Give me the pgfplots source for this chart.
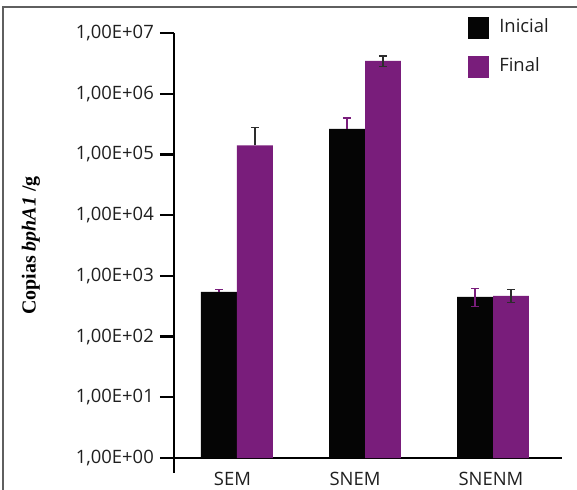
\documentclass[border=0pt]{standalone}
\usepackage{fontspec}
\setmainfont{Open Sans}
\newfontfamily\serifB{Liberation Serif}
\usepackage{pgfplots}
\pgfplotsset{compat=1.18}
\definecolor{barpurple}{RGB}{121,29,123}
\definecolor{errgray}{RGB}{45,45,45}
\definecolor{framegray}{RGB}{95,95,95}
\definecolor{barblack}{RGB}{5,5,5}

\begin{document}
\begin{tikzpicture}
\useasboundingbox (0,0) rectangle (577bp,490bp);
\draw[framegray, line width=1.5bp] (3bp,-20bp) rectangle (600bp,483bp);
\begin{axis}[
  at={(174bp,32bp)}, anchor=south west,
  scale only axis, width=388bp, height=425bp,
  xmin=-0.492, xmax=2.539,
  ymode=log, ymin=1, ymax=1e7,
  axis x line*=bottom, axis y line*=left,
  axis line style={line width=2.2bp, black},
  tick align=outside, major tick length=14bp,
  ytick={1,10,100,1000,10000,100000,1000000,10000000},
  yticklabels={{1,00E+00},{1,00E+01},{1,00E+02},{1,00E+03},{1,00E+04},{1,00E+05},{1,00E+06},{1,00E+07}},
  yminorticks=false,
  xtick={-0.035,0.922,1.984},
  xticklabels={SEM,SNEM,SNENM},
  x tick style={draw=none},
  y tick style={line width=2.2bp, black},
  tick label style={font=\fontsize{18.5}{20}\selectfont, text=black!88},
  yticklabel style={inner sep=0pt, xshift=-6bp},
  xticklabel style={inner sep=0pt, anchor=north},
  ylabel={\serifB\bfseries\fontsize{20}{22}\selectfont Copias \textit{bphA1} /g},
  every axis y label/.style={at={(axis description cs:0,0.5)}, xshift=-143bp, rotate=90, anchor=center},
  legend style={at={(axis description cs:0.758,1.038)}, anchor=north west, draw=none, fill=none,
    inner sep=0pt, row sep=17bp, column sep=10bp, font=\fontsize{18.5}{20}\selectfont,
    nodes={inner sep=0pt, text=black!88}},
  legend cell align=left,
  clip=false,
]
\addplot[ybar, bar width=0.281, bar shift=-0.1406, fill=barblack, draw=none,
  legend image code/.code={\fill[barblack] (0bp,-13bp) rectangle (21bp,9bp);}]
  coordinates {(0,543) (1,2.63e5) (2,449)};
\addlegendentry{Inicial}
\addplot[ybar, bar width=0.281, bar shift=0.1406, fill=barpurple, draw=none,
  legend image code/.code={\fill[barpurple] (0bp,-13bp) rectangle (21bp,9bp);}]
  coordinates {(0,1.415e5) (1,3.46e6) (2,466)};
\addlegendentry{Final}

% error bars: Inicial (purple), at the bar centres x-0.1406
\addplot[barpurple, draw=none, mark=none, forget plot,
  error bars/.cd, y dir=plus, y explicit,
  error bar style={draw=barpurple, line width=1.3bp},
  error mark options={draw=barpurple, line width=1.3bp, mark size=4bp, rotate=90}]
  coordinates {(-0.1406,543) +- (0,58) (0.8594,2.63e5) +- (0,1.35e5)};
\addplot[barpurple, draw=none, mark=none, forget plot,
  error bars/.cd, y dir=both, y explicit,
  error bar style={draw=barpurple, line width=1.3bp},
  error mark options={draw=barpurple, line width=1.3bp, mark size=4bp, rotate=90}]
  coordinates {(1.8594,449) += (0,175) -= (0,140)};
% error bars: Final (dark gray), at x+0.1406
\addplot[errgray, draw=none, mark=none, forget plot,
  error bars/.cd, y dir=plus, y explicit,
  error bar style={draw=errgray, line width=1.3bp},
  error mark options={draw=errgray, line width=1.3bp, mark size=4bp, rotate=90}]
  coordinates {(0.1406,1.415e5) +- (0,1.35e5)};
\addplot[errgray, draw=none, mark=none, forget plot,
  error bars/.cd, y dir=both, y explicit,
  error bar style={draw=errgray, line width=1.3bp},
  error mark options={draw=errgray, line width=1.3bp, mark size=4bp, rotate=90}]
  coordinates {(1.1406,3.46e6) += (0,0.73e6) -= (0,0.67e6) (2.1406,466) += (0,135) -= (0,99)};
\draw[line width=2.2bp, black] (rel axis cs:0,0) -- ([yshift=-15bp]rel axis cs:0,0);
\end{axis}
\end{tikzpicture}
\end{document}
